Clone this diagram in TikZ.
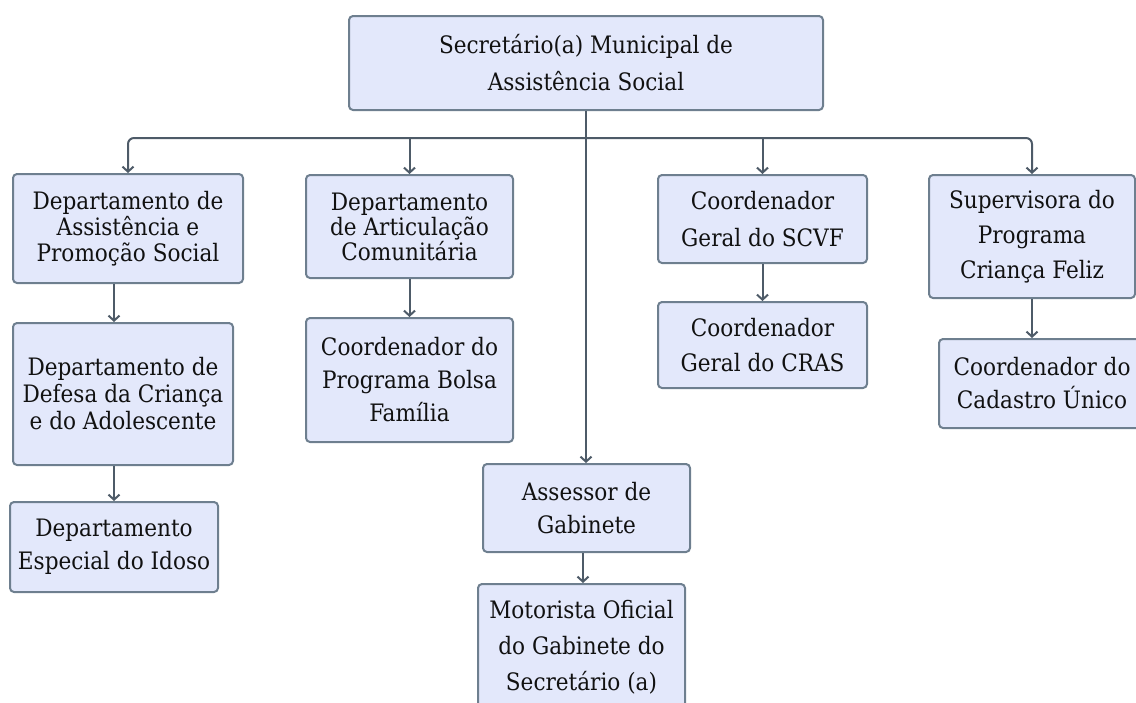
\documentclass[tikz,border=0pt]{standalone}
\usepackage{fontspec}
\setmainfont{DejaVu Serif Condensed}
\usetikzlibrary{arrows.meta}
\definecolor{boxfill}{HTML}{E3E8FB}
\definecolor{boxline}{HTML}{6E7F8F}
\definecolor{connline}{HTML}{4E5B68}
\definecolor{txt}{HTML}{111111}
\begin{document}
\begin{tikzpicture}[x=1pt,y=-1pt,
  orgbox/.style={draw=boxline, fill=boxfill, line width=2pt, rounded corners=4pt,
    align=center, inner sep=0pt, text=txt, font=\fontsize{24}{35}\selectfont},
  tight/.style={font=\fontsize{24}{26}\selectfont},
  arr/.style={draw=connline, line width=2pt, -{Straight Barb[length=5pt,width=11pt]}}]
\useasboundingbox (0,0) rectangle (1136,702);
\clip (0,0) rectangle (1136,702);
\node[orgbox, minimum width=474pt, minimum height=94pt, font=\fontsize{24}{37}\selectfont] (top) at (586,63) {Secretário(a) Municipal de\\Assistência Social};
\node[orgbox, tight, minimum width=230pt, minimum height=109pt] (assist) at (128,228.5) {Departamento de\\Assistência e\\Promoção Social};
\node[orgbox, minimum width=207pt, minimum height=103pt, font=\fontsize{24}{25}\selectfont] (artic) at (409.5,226.5) {Departamento\\de Articulação\\Comunitária};
\node[orgbox, minimum width=209pt, minimum height=88pt, font=\fontsize{24}{37}\selectfont] (scvf) at (762.5,219) {Coordenador\\Geral do SCVF};
\node[orgbox, minimum width=206pt, minimum height=123pt] (superv) at (1032,236.5) {Supervisora do\\Programa\\Criança Feliz};
\node[orgbox, minimum width=220pt, minimum height=142pt, font=\fontsize{24}{27}\selectfont] (defesa) at (123,394) {Departamento de\\Defesa da Criança\\e do Adolescente};
\node[orgbox, minimum width=207pt, minimum height=124pt, font=\fontsize{24}{33}\selectfont] (bolsa) at (409.5,380) {Coordenador do\\Programa Bolsa\\Família};
\node[orgbox, minimum width=209pt, minimum height=86pt] (cras) at (762.5,345) {Coordenador\\Geral do CRAS};
\node[orgbox, minimum width=206pt, minimum height=89pt, font=\fontsize{24}{33}\selectfont] (cadastro) at (1042,383.5) {Coordenador do\\Cadastro Único};
\node[orgbox, minimum width=208pt, minimum height=90pt, font=\fontsize{24}{33}\selectfont] (idoso) at (114,547) {Departamento\\Especial do Idoso};
\node[orgbox, minimum width=207pt, minimum height=88pt, font=\fontsize{24}{33}\selectfont] (assessor) at (586.5,508) {Assessor de\\Gabinete};
\node[orgbox, minimum width=207pt, minimum height=126pt, font=\fontsize{24}{36}\selectfont] (motorista) at (581.5,647) {Motorista Oficial\\do Gabinete do\\Secretário (a)};
\coordinate (bus) at (587,138);
\coordinate (lowx) at (583,0);
\draw[arr, rounded corners=6pt] (top.south |- bus) -| (assist.north);
\draw[arr, rounded corners=6pt] (top.south |- bus) -| (superv.north);
\draw[arr] (artic.north |- bus) -- (artic.north);
\draw[arr] (scvf.north |- bus) -- (scvf.north);
\draw[arr] (top.south) -- (top.south |- assessor.north);
\draw[arr] (assist.south -| idoso.north) -- (defesa.north -| idoso.north);
\draw[arr] (defesa.south -| idoso.north) -- (idoso.north);
\draw[arr] (artic.south) -- (bolsa.north);
\draw[arr] (scvf.south) -- (cras.north);
\draw[arr] (superv.south) -- (superv.south |- cadastro.north);
\draw[arr] (assessor.south -| lowx) -- (motorista.north -| lowx);
\end{tikzpicture}
\end{document}
